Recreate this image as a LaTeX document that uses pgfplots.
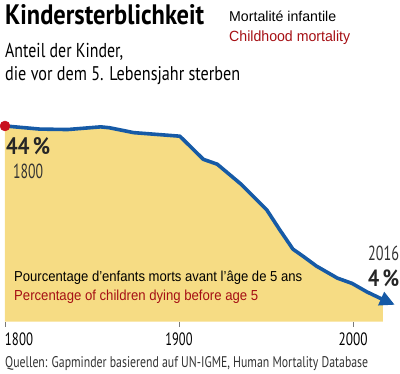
\documentclass[border=0pt]{standalone}
\usepackage{pgfplots}
\pgfplotsset{compat=1.18}
\usepackage{graphicx}
\usepackage{fontspec}
\setmainfont{Liberation Sans}
\newfontfamily\cond{PT Sans}
\usetikzlibrary{arrows.meta}
\definecolor{fillyel}{RGB}{246,220,132}
\definecolor{lineblue}{RGB}{22,90,166}
\definecolor{dotred}{RGB}{200,16,30}
\definecolor{txtred}{RGB}{165,15,20}
\definecolor{tickgray}{RGB}{120,120,120}
\newcommand\fit[3]{\resizebox{#1pt}{#2pt}{#3}}
\begin{document}
\begin{tikzpicture}[x=1pt,y=1pt]
\path[use as bounding box] (0,0) rectangle (400,374);
\begin{axis}[
  at={(5pt,52.3pt)}, anchor=south west,
  scale only axis, width=378pt, height=321.7pt,
  xmin=1800, xmax=2017.24, ymin=0, ymax=72.32,
  clip=false,
  axis x line*=bottom, axis y line=none,
  x axis line style={draw=none},
  xtick={1800,1900,2000},
  xticklabels={\rlap{\fit{28}{12.7}{\cond 1800}},\fit{27}{12.7}{\cond 1900},\fit{29}{12.7}{\cond 2000}},
  xtick align=outside, major tick length=5pt,
  x tick style={tickgray, line width=0.8pt},
  xticklabel style={anchor=base, inner sep=0pt, yshift=-19.3pt},
]
\addplot[fill=fillyel, draw=none] coordinates {
 (1800,44.0) (1820,43.3) (1836,43.2) (1855,43.8) (1860,43.6) (1874,42.5)
 (1900.5,41.7) (1914,36.5) (1922,35.4) (1936,30.8) (1950.5,25.1) (1958,20.6)
 (1965.5,16.3) (1971,14.8) (1979,12.5) (1991,9.8) (1999.5,8.6) (2008,6.7)
 (2015.5,5.3) (2017.24,5.0)} \closedcycle;
\addplot[lineblue, line width=3.6pt, line join=round, -{Triangle[length=15pt,width=14pt]}] coordinates {
 (1800,44.0) (1820,43.3) (1836,43.2) (1855,43.8) (1860,43.6) (1874,42.5)
 (1900.5,41.7) (1914,36.5) (1922,35.4) (1936,30.8) (1950.5,25.1) (1958,20.6)
 (1965.5,16.3) (1971,14.8) (1979,12.5) (1991,9.8) (1999.5,8.6) (2008,6.7)
 (2015.5,5.3) (2024,3.8)};
\addplot[only marks, mark=*, mark size=5pt, color=dotred] coordinates {(1800,44)};
\end{axis}
\node[anchor=base west, inner sep=0pt] at (5,349) {\fit{199}{20}{\cond\bfseries Kindersterblichkeit}};
\node[anchor=base west, inner sep=0pt] at (5,316.7) {\fit{118}{14.3}{\cond Anteil der Kinder,}};
\node[anchor=base west, inner sep=0pt] at (5,293) {\fit{235}{14}{\cond die vor dem 5. Lebensjahr sterben}};
\node[anchor=base west, inner sep=0pt] at (229,352.3) {\fit{107}{10.5}{Mortalité infantile}};
\node[anchor=base west, inner sep=0pt, text=txtred] at (229,332.7) {\fit{121}{10.7}{Childhood mortality}};
\node[anchor=base west, inner sep=0pt, text=black!85] at (6,219) {\fit{44}{17}{\cond\bfseries 44\,\%}};
\node[anchor=base west, inner sep=0pt, text=black!80] at (13,195) {\fit{30}{14.5}{\cond 1800}};
\node[anchor=base west, inner sep=0pt, text=black!80] at (368,113.5) {\fit{31}{14.5}{\cond 2016}};
\node[anchor=base west, inner sep=0pt, text=black!85] at (368,87.3) {\fit{31}{16.7}{\cond\bfseries 4\,\%}};
\node[anchor=base west, inner sep=0pt] at (14,92.3) {\fit{288}{10.5}{Pourcentage d’enfants morts avant l’âge de 5 ans}};
\node[anchor=base west, inner sep=0pt, text=txtred] at (14,73.3) {\fit{244}{10.5}{Percentage of children dying before age 5}};
\node[anchor=base west, inner sep=0pt, text=black!80] at (5,6.3) {\fit{363}{11}{\cond Quellen: Gapminder basierend auf UN-IGME, Human Mortality Database}};
\end{tikzpicture}
\end{document}
